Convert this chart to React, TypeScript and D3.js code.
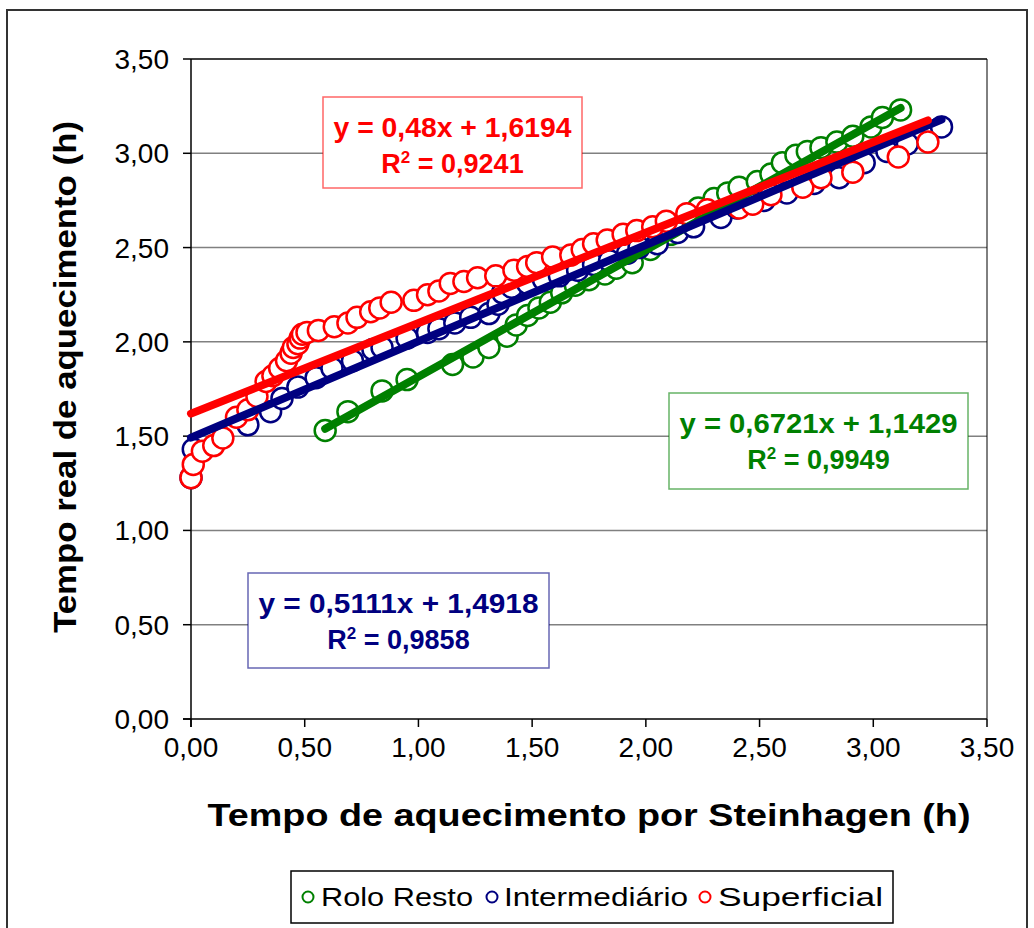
import React from "react";
import * as d3 from "d3";

// Tempo de aquecimento por Steinhagen (h) x tempo real (h)
const roloResto: [number, number][] = [
  [0.59, 1.53], [0.69, 1.63], [0.84, 1.74], [0.95, 1.8], [1.15, 1.88], [1.24, 1.92],
  [1.31, 1.97], [1.39, 2.03], [1.43, 2.09], [1.48, 2.14], [1.53, 2.18], [1.58, 2.21],
  [1.63, 2.26], [1.69, 2.3], [1.75, 2.33], [1.82, 2.36], [1.87, 2.39], [1.94, 2.42],
  [2.02, 2.49], [2.11, 2.57], [2.23, 2.71], [2.3, 2.76], [2.36, 2.79], [2.41, 2.82],
  [2.49, 2.85], [2.55, 2.89], [2.6, 2.95], [2.66, 2.99], [2.71, 3.01], [2.77, 3.03],
  [2.84, 3.06], [2.91, 3.09], [2.99, 3.14], [3.04, 3.19], [3.12, 3.23],
];

const intermediario: [number, number][] = [
  [0.0, 1.28], [0.01, 1.43], [0.25, 1.56], [0.35, 1.63], [0.4, 1.7], [0.47, 1.76],
  [0.55, 1.81], [0.62, 1.86], [0.71, 1.9], [0.8, 1.96], [0.84, 1.97], [0.95, 2.02],
  [1.04, 2.05], [1.09, 2.07], [1.16, 2.1], [1.23, 2.13], [1.31, 2.15], [1.35, 2.2],
  [1.37, 2.26], [1.41, 2.29], [1.48, 2.31], [1.55, 2.33], [1.62, 2.35], [1.7, 2.38],
  [1.77, 2.41], [1.84, 2.43], [1.92, 2.47], [1.97, 2.5], [2.05, 2.52], [2.14, 2.58],
  [2.21, 2.61], [2.33, 2.66], [2.4, 2.71], [2.52, 2.75], [2.62, 2.79], [2.74, 2.84],
  [2.85, 2.87], [2.96, 2.95], [3.06, 3.01], [3.15, 3.05], [3.3, 3.14],
];

const superficial: [number, number][] = [
  [0.0, 1.28], [0.01, 1.35], [0.05, 1.42], [0.1, 1.45], [0.14, 1.49], [0.2, 1.6],
  [0.25, 1.64], [0.29, 1.71], [0.33, 1.79], [0.36, 1.82], [0.39, 1.86], [0.42, 1.9],
  [0.44, 1.94], [0.45, 1.97], [0.47, 1.99], [0.48, 2.02], [0.49, 2.04], [0.51, 2.05],
  [0.56, 2.06], [0.63, 2.08], [0.69, 2.1], [0.73, 2.13], [0.79, 2.16], [0.83, 2.18],
  [0.88, 2.21], [0.98, 2.22], [1.04, 2.25], [1.09, 2.27], [1.14, 2.31], [1.2, 2.32],
  [1.26, 2.34], [1.34, 2.35], [1.42, 2.38], [1.48, 2.4], [1.52, 2.42], [1.59, 2.45],
  [1.67, 2.46], [1.72, 2.49], [1.77, 2.52], [1.83, 2.54], [1.9, 2.57], [1.96, 2.59],
  [2.03, 2.61], [2.09, 2.64], [2.18, 2.68], [2.27, 2.7], [2.41, 2.71], [2.47, 2.73],
  [2.55, 2.78], [2.69, 2.82], [2.77, 2.87], [2.91, 2.9], [3.11, 2.98], [3.24, 3.06],
];

const seriesNames = ["Rolo Resto", "Intermediário", "Superficial"];
const seriesColors = ["#008000", "#000080", "#ff0000"];
// linear trendlines: slope, intercept, r2
const slopes = [0.6721, 0.5111, 0.48];
const intercepts = [1.1429, 1.4918, 1.6194];
const r2s = ["0,9949", "0,9858", "0,9241"];

const ticks = [0, 0.5, 1, 1.5, 2, 2.5, 3, 3.5];

const W = 1034;
const H = 928;
const plot = { left: 191, right: 987, top: 59, bottom: 719 };
const font = "'Liberation Sans', Arial, sans-serif";

const fmt = (v: number) => v.toFixed(2).replace(".", ",");
const fmtEq = (v: number) => String(v).replace(".", ",");

export default function App() {
  const x = d3.scaleLinear().domain([0, 3.5]).range([plot.left, plot.right]);
  const y = d3.scaleLinear().domain([0, 3.5]).range([plot.bottom, plot.top]);
  const line = d3
    .line<number[]>()
    .x((d) => x(d[0]))
    .y((d) => y(d[1]));

  const data = [roloResto, intermediario, superficial];

  // equation boxes (green, blue, red)
  const boxes = [
    { x: 669, y: 393, w: 299, h: 96, tw: 278 },
    { x: 248, y: 573, w: 301, h: 95, tw: 280 },
    { x: 323, y: 97, w: 259, h: 91, tw: 238 },
  ];

  // legend
  const legendItems = [
    { cx: 308, tx: 321, tw: 152 },
    { cx: 492, tx: 504, tw: 184 },
    { cx: 705, tx: 718, tw: 165 },
  ];

  return (
    <svg
      width={W}
      height={H}
      style={{ position: "absolute", left: 0, top: 0, background: "#fff" }}
      fontFamily={font}
    >
      <rect x={0} y={0} width={W} height={H} fill="#fff" />
      <rect x={7} y={10} width={1020} height={940} fill="none" stroke="#333" strokeWidth={2} />

      {/* gridlines */}
      {ticks.slice(1).map((t) => (
        <line
          key={"g" + t}
          x1={plot.left}
          x2={plot.right}
          y1={y(t)}
          y2={y(t)}
          stroke={t === 3.5 ? "#000" : "#808080"}
          strokeWidth={1.5}
        />
      ))}
      <line x1={plot.right} x2={plot.right} y1={plot.top} y2={plot.bottom} stroke="#000" strokeWidth={1} />

      {/* axes */}
      <line x1={plot.left} x2={plot.left} y1={plot.top} y2={plot.bottom + 8} stroke="#000" strokeWidth={1.5} />
      <line x1={plot.left - 8} x2={plot.right} y1={plot.bottom} y2={plot.bottom} stroke="#000" strokeWidth={1.5} />
      {ticks.map((t) => (
        <g key={"t" + t}>
          <line x1={plot.left - 8} x2={plot.left} y1={y(t)} y2={y(t)} stroke="#000" strokeWidth={1.5} />
          <line x1={x(t)} x2={x(t)} y1={plot.bottom} y2={plot.bottom + 8} stroke="#000" strokeWidth={1.5} />
          <text x={plot.left - 22} y={y(t) + 10} fontSize={28} textAnchor="end" fill="#000">
            {fmt(t)}
          </text>
          <text x={x(t)} y={plot.bottom + 38} fontSize={28} textAnchor="middle" fill="#000">
            {fmt(t)}
          </text>
        </g>
      ))}

      {/* axis titles */}
      <text
        x={589}
        y={826}
        fontSize={31}
        fontWeight="bold"
        textAnchor="middle"
        textLength={763}
        lengthAdjust="spacingAndGlyphs"
      >
        Tempo de aquecimento por Steinhagen (h)
      </text>
      <text
        transform={`translate(76,${377}) rotate(-90)`}
        fontSize={31}
        fontWeight="bold"
        textAnchor="middle"
        textLength={512}
        lengthAdjust="spacingAndGlyphs"
      >
        Tempo real de aquecimento (h)
      </text>

      {/* markers */}
      {data.map((s, i) => (
        <g key={"s" + i}>
          {s.map((d, j) => (
            <circle
              key={j}
              cx={x(d[0])}
              cy={y(d[1])}
              r={10.5}
              fill="#fff"
              stroke={seriesColors[i]}
              strokeWidth={2.5}
            />
          ))}
        </g>
      ))}

      {/* trendlines */}
      {data.map((s, i) => {
        const ext = d3.extent(s, (d) => d[0]) as [number, number];
        const pts = ext.map((v) => [v, slopes[i] * v + intercepts[i]]);
        return (
          <path
            key={"l" + i}
            d={line(pts) || ""}
            stroke={seriesColors[i]}
            strokeWidth={8}
            fill="none"
            strokeLinecap="round"
          />
        );
      })}

      {/* equation labels */}
      {boxes.map((b, i) => (
        <g key={"b" + i}>
          <rect x={b.x} y={b.y} width={b.w} height={b.h} fill="#fff" stroke={seriesColors[i]} strokeOpacity={0.6} strokeWidth={1.5} />
          <text
            x={b.x + b.w / 2}
            y={b.y + 40}
            fontSize={27}
            fontWeight="bold"
            textAnchor="middle"
            textLength={b.tw}
            lengthAdjust="spacingAndGlyphs"
            fill={seriesColors[i]}
          >
            {`y = ${fmtEq(slopes[i])}x + ${fmtEq(intercepts[i])}`}
          </text>
          <text
            x={b.x + b.w / 2}
            y={b.y + 76}
            fontSize={27}
            fontWeight="bold"
            textAnchor="middle"
            fill={seriesColors[i]}
          >
            R<tspan fontSize={17} dy={-10}>2</tspan>
            <tspan dy={10}>{` = ${r2s[i]}`}</tspan>
          </text>
        </g>
      ))}

      {/* legend */}
      <rect x={291} y={871} width={602} height={52} fill="#fff" stroke="#000" strokeWidth={1.5} />
      {legendItems.map((it, i) => (
        <g key={"lg" + i}>
          <circle cx={it.cx} cy={897} r={5.5} fill="#fff" stroke={seriesColors[i]} strokeWidth={2} />
          <text x={it.tx} y={906} fontSize={26} textLength={it.tw} lengthAdjust="spacingAndGlyphs">
            {seriesNames[i]}
          </text>
        </g>
      ))}
    </svg>
  );
}
